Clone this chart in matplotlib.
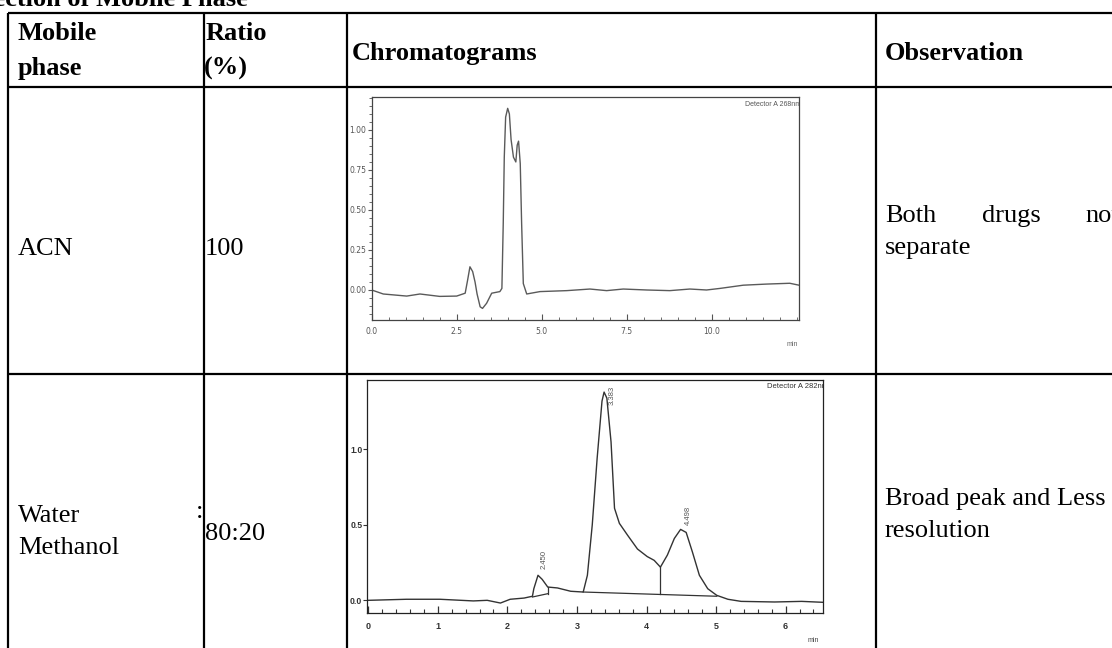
import matplotlib
matplotlib.use("Agg")
import matplotlib.pyplot as plt
from matplotlib.ticker import MultipleLocator, FixedLocator

W, H = 1112, 648

# table content
title_text = "Selection of Mobile Phase"
header_lines = [["Mobile", "phase"], ["Ratio", "(%)"], ["Chromatograms"], ["Observation"]]
phase_lines = [["ACN"], ["Water", "Methanol"]]
ratio_text = ["100", "80:20"]
obs_row1_words = ["Both", "drugs", "not"]
obs_row1_line2 = "separate"
obs_row2_lines = ["Broad peak and Less", "resolution"]

# chromatogram 1: ACN 100 %
acn_time = [0, 0.34, 1.03, 1.42, 2.0, 2.5, 2.75, 2.82, 2.89, 2.97, 3.04, 3.1, 3.19, 3.26,
            3.38, 3.53, 3.77, 3.83, 3.87, 3.9, 3.94, 4.0, 4.05, 4.1, 4.17, 4.24, 4.28, 4.32,
            4.37, 4.41, 4.46, 4.56, 4.95, 5.74, 6.42, 6.91, 7.4, 8.09, 8.77, 9.36, 9.85,
            10.25, 10.93, 11.62, 12.3, 12.57]
acn_signal = [0, -0.025, -0.038, -0.025, -0.04, -0.038, -0.02, 0.06, 0.145, 0.115, 0.05,
              -0.025, -0.105, -0.115, -0.083, -0.02, -0.01, 0.01, 0.42, 0.83, 1.08, 1.135,
              1.10, 0.94, 0.83, 0.80, 0.905, 0.93, 0.79, 0.42, 0.04, -0.025, -0.01, -0.004,
              0.006, -0.004, 0.006, 0.0, -0.004, 0.006, 0.0, 0.01, 0.03, 0.037, 0.042, 0.03]
acn_xticks = [0.0, 2.5, 5.0, 7.5, 10.0]
acn_xlabels = ["0.0", "2.5", "5.0", "7.5", "10.0"]
acn_yticks = [0.0, 0.25, 0.50, 0.75, 1.00]
acn_ylabels = ["0.00", "0.25", "0.50", "0.75", "1.00"]

# chromatogram 2: water : methanol 80:20
wm_time = [0, 0.55, 1.03, 1.51, 1.71, 1.9, 2.04, 2.24, 2.36, 2.38, 2.44, 2.5, 2.58, 2.72,
           2.91, 3.09, 3.15, 3.22, 3.29, 3.36, 3.39, 3.43, 3.49, 3.54, 3.61, 3.73, 3.87,
           4.01, 4.11, 4.2, 4.3, 4.4, 4.49, 4.57, 4.66, 4.76, 4.88, 5.01, 5.17, 5.36, 5.84,
           6.23, 6.53]
wm_signal = [0, 0.007, 0.007, -0.004, 0.0, -0.018, 0.007, 0.015, 0.027, 0.077, 0.166,
             0.139, 0.088, 0.082, 0.06, 0.055, 0.166, 0.5, 0.94, 1.32, 1.38, 1.34, 1.05,
             0.61, 0.51, 0.43, 0.34, 0.29, 0.265, 0.22, 0.30, 0.41, 0.47, 0.45, 0.32, 0.166,
             0.077, 0.033, 0.007, -0.007, -0.011, -0.007, -0.013]
wm_peak_rt = [2.450, 3.383, 4.498]
wm_peak_label_y = [0.27, 1.36, 0.56]
wm_base1_t = [2.36, 2.58]
wm_base1_y = [0.022, 0.044]
wm_base2_t = [3.09, 5.01]
wm_base2_y = [0.055, 0.027]
wm_drops_t = [2.58, 4.2]
wm_drops_curve = [0.088, 0.22]


def frac(l, t, r, b):
    return [l / W, 1 - b / H, (r - l) / W, (b - t) / H]


fig = plt.figure(figsize=(W / 100, H / 100), dpi=100)
bg = fig.add_axes([0, 0, 1, 1])
bg.set_xlim(0, W)
bg.set_ylim(H, 0)
bg.axis("off")

serif = "Liberation Serif"
fs = 19

# table grid
lw = 1.6
for x in [8.3, 203.5, 347, 876]:
    bg.plot([x, x], [12.7, H + 5], color="black", lw=lw, solid_capstyle="butt")
for y in [12.7, 86.7, 374]:
    bg.plot([8.3 - 0.8, W + 5], [y, y], color="black", lw=lw, solid_capstyle="butt")

# cut-off caption above the table
bg.text(-40, 6, title_text, family=serif, fontsize=fs, fontweight="bold", va="baseline")

# header
bg.text(18, 40, header_lines[0][0], family=serif, fontsize=fs, fontweight="bold", va="baseline")
bg.text(18, 75, header_lines[0][1], family=serif, fontsize=fs, fontweight="bold", va="baseline")
bg.text(206, 40, header_lines[1][0], family=serif, fontsize=fs, fontweight="bold", va="baseline")
bg.text(204, 75, header_lines[1][1], family=serif, fontsize=fs, fontweight="bold", va="baseline")
bg.text(352, 60, header_lines[2][0], family=serif, fontsize=fs, fontweight="bold", va="baseline")
bg.text(885, 60, header_lines[3][0], family=serif, fontsize=fs, fontweight="bold", va="baseline")

# row 1
bg.text(18, 255, phase_lines[0][0], family=serif, fontsize=fs, va="baseline")
bg.text(205, 255, ratio_text[0], family=serif, fontsize=fs, va="baseline")
for word, x in zip(obs_row1_words, [885, 982, 1085]):
    bg.text(x, 222, word, family=serif, fontsize=fs, va="baseline")
bg.text(885, 254, obs_row1_line2, family=serif, fontsize=fs, va="baseline")

# row 2
bg.text(18, 522, phase_lines[1][0], family=serif, fontsize=fs, va="baseline")
bg.text(18, 554, phase_lines[1][1], family=serif, fontsize=fs, va="baseline")
bg.text(196, 518, ":", family=serif, fontsize=fs, va="baseline")
bg.text(205, 540, ratio_text[1], family=serif, fontsize=fs, va="baseline")
bg.text(885, 505, obs_row2_lines[0], family=serif, fontsize=fs, va="baseline")
bg.text(885, 537, obs_row2_lines[1], family=serif, fontsize=fs, va="baseline")

# ---- chromatogram 1 ----
c1 = fig.add_axes(frac(371.7, 97.3, 799, 320))
c1.plot(acn_time, acn_signal, color="#5a5a5a", lw=1.0)
c1.set_xlim(0, 12.57)
c1.set_ylim(-0.1875, 1.204)
c1.xaxis.set_major_locator(FixedLocator(acn_xticks))
c1.set_xticklabels(acn_xlabels)
c1.xaxis.set_minor_locator(MultipleLocator(0.5))
c1.yaxis.set_major_locator(FixedLocator(acn_yticks))
c1.set_yticklabels(acn_ylabels)
c1.yaxis.set_minor_locator(MultipleLocator(0.05))
c1.tick_params(axis="x", which="both", direction="in", colors="#555555", labelsize=5.5, pad=5)
c1.tick_params(axis="x", which="major", length=4, width=0.8)
c1.tick_params(axis="x", which="minor", length=2, width=0.6)
c1.tick_params(axis="y", which="both", direction="out", colors="#555555", labelsize=5.5, pad=1)
c1.tick_params(axis="y", which="major", length=3, width=0.8)
c1.tick_params(axis="y", which="minor", length=2, width=0.6)
for s in c1.spines.values():
    s.set_color("#444444")
    s.set_linewidth(0.9)
c1.text(1.005, 0.985, "Detector A 268nm", transform=c1.transAxes, ha="right", va="top",
        fontsize=5, color="#555555", family="Liberation Sans", clip_on=True)
bg.text(792, 345, "min", fontsize=5, color="#666666", family="Liberation Sans",
        ha="center", va="center")

# ---- chromatogram 2 ----
c2 = fig.add_axes(frac(367.3, 380, 822.5, 613))
c2.plot(wm_time, wm_signal, color="#333333", lw=1.0)
c2.plot(wm_base1_t, wm_base1_y, color="#333333", lw=0.9)
c2.plot(wm_base2_t, wm_base2_y, color="#333333", lw=0.9)
for t, yc in zip(wm_drops_t, wm_drops_curve):
    yb1 = wm_base1_y[0] + (wm_base1_y[1] - wm_base1_y[0]) * (t - wm_base1_t[0]) / (wm_base1_t[1] - wm_base1_t[0])
    yb2 = wm_base2_y[0] + (wm_base2_y[1] - wm_base2_y[0]) * (t - wm_base2_t[0]) / (wm_base2_t[1] - wm_base2_t[0])
    yb = yb1 if t <= wm_base1_t[1] else yb2
    c2.plot([t, t], [yb, yc], color="#333333", lw=0.9)
for rt, ly, dx in zip(wm_peak_rt, wm_peak_label_y, [0.08, 0.12, 0.1]):
    c2.text(rt + dx, ly, f"{rt:.3f}", rotation=90, ha="center", va="center",
            fontsize=5.5, color="#555555", family="Liberation Sans")
c2.set_xlim(-0.014, 6.53)
c2.set_ylim(-0.084, 1.46)
c2.xaxis.set_major_locator(MultipleLocator(1))
c2.xaxis.set_minor_locator(MultipleLocator(0.2))
c2.yaxis.set_major_locator(FixedLocator([0.0, 0.5, 1.0]))
c2.set_yticklabels(["0.0", "0.5", "1.0"])
c2.tick_params(axis="x", which="both", direction="in", colors="#333333", labelsize=6.5, pad=6.5)
c2.tick_params(axis="x", which="major", length=5, width=0.9)
c2.tick_params(axis="x", which="minor", length=3, width=0.8)
c2.tick_params(axis="y", which="major", direction="out", length=3, width=0.8,
               colors="#333333", labelsize=6.2, pad=0.6)
for lab in c2.get_xticklabels() + c2.get_yticklabels():
    lab.set_fontweight("bold")
    lab.set_family("Liberation Sans")
for s in c2.spines.values():
    s.set_color("#222222")
    s.set_linewidth(0.9)
c2.text(1.012, 0.985, "Detector A 282nm", transform=c2.transAxes, ha="right", va="top",
        fontsize=5.5, color="#333333", family="Liberation Sans", clip_on=True)
bg.text(813, 640, "min", fontsize=5, color="#444444", family="Liberation Sans",
        ha="center", va="center")

fig.savefig("out.png", dpi=100)
